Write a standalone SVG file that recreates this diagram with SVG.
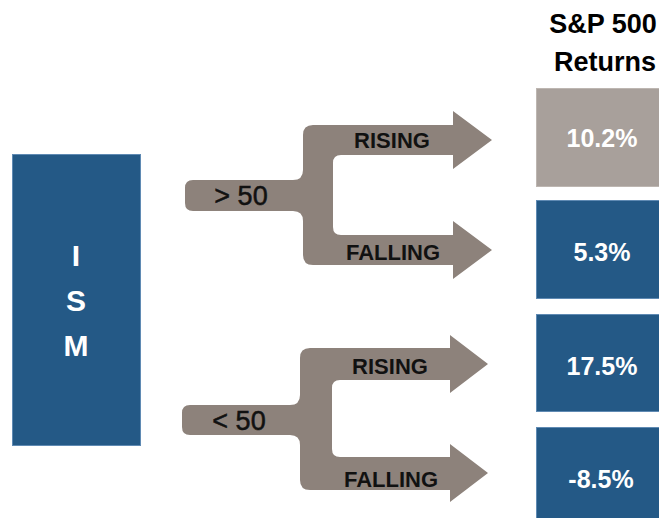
<svg xmlns="http://www.w3.org/2000/svg" width="659" height="518" viewBox="0 0 659 518">
<style>
.blue{fill:#245986;stroke:#5f8ab3;stroke-width:1}
.grey{fill:#a8a09b;stroke:#bdb6b1;stroke-width:1}
.arrow{fill:#8d827b}
.lbl{font-family:"Liberation Sans",Arial,sans-serif;font-weight:bold;fill:#111;text-anchor:middle}
.cond{font-family:"Liberation Sans",Arial,sans-serif;fill:#111;text-anchor:middle;font-size:27px;stroke:#111;stroke-width:0.5}
.val{font-family:"Liberation Sans",Arial,sans-serif;font-weight:bold;fill:#fff;text-anchor:middle;font-size:25px}
.ism{font-family:"Liberation Sans",Arial,sans-serif;font-weight:bold;fill:#fff;text-anchor:middle;font-size:30px}
.hdr{font-family:"Liberation Sans",Arial,sans-serif;font-weight:bold;fill:#000;text-anchor:middle;font-size:27px}
</style>
<rect width="659" height="518" fill="#fff"/>
<g id="header">
<text class="hdr" x="603" y="33">S&amp;P 500</text>
<text class="hdr" x="605" y="71">Returns</text>
</g>
<g id="ism">
<rect class="blue" x="12.5" y="154.5" width="128" height="291"/>
<text class="ism" x="76" y="266">I</text>
<text class="ism" x="76" y="311">S</text>
<text class="ism" x="76" y="356">M</text>
</g>
<g id="connectors">
<g id="branch-above50">
<path class="arrow" d="M185,188 Q185,180 193,180 L293,180 Q303,180 303,170 L303,135 Q303,125 313,125 L453,125 L453,111 L492,140 L453,169 L453,155 L341,155 Q333,155 333,163 L333,227 Q333,235 341,235 L453,235 L453,221 L492,250 L453,279 L453,265 L313,265 Q303,265 303,255 L303,221 Q303,211 293,211 L193,211 Q185,211 185,203 Z"/>
<text class="cond" x="241" y="205">&gt; 50</text>
<text class="lbl" x="392" y="148" font-size="22">RISING</text>
<text class="lbl" x="393" y="260" font-size="22">FALLING</text>
</g>
<g id="branch-below50">
<path class="arrow" d="M182,413 Q182,405 190,405 L290,405 Q300,405 300,395 L300,358 Q300,348 310,348 L450,348 L450,335 L488,364 L450,393 L450,380 L340,380 Q332,380 332,388 L332,449 Q332,457 340,457 L450,457 L450,444 L488,473 L450,502 L450,490 L310,490 Q300,490 300,480 L300,445 Q300,435 290,435 L190,435 Q182,435 182,427 Z"/>
<text class="cond" x="239" y="430">&lt; 50</text>
<text class="lbl" x="390" y="374" font-size="22">RISING</text>
<text class="lbl" x="391" y="487" font-size="22">FALLING</text>
</g>
</g>
<g id="ret-1">
<rect class="grey" x="536.5" y="88.5" width="124" height="98"/>
<text class="val" x="602" y="147">10.2%</text>
</g>
<g id="ret-2">
<rect class="blue" x="536.5" y="200.5" width="124" height="98"/>
<text class="val" x="602" y="261">5.3%</text>
</g>
<g id="ret-3">
<rect class="blue" x="536.5" y="314.5" width="124" height="97"/>
<text class="val" x="602" y="375">17.5%</text>
</g>
<g id="ret-4">
<rect class="blue" x="536.5" y="427.5" width="124" height="92"/>
<text class="val" x="601" y="488">-8.5%</text>
</g>
</svg>
